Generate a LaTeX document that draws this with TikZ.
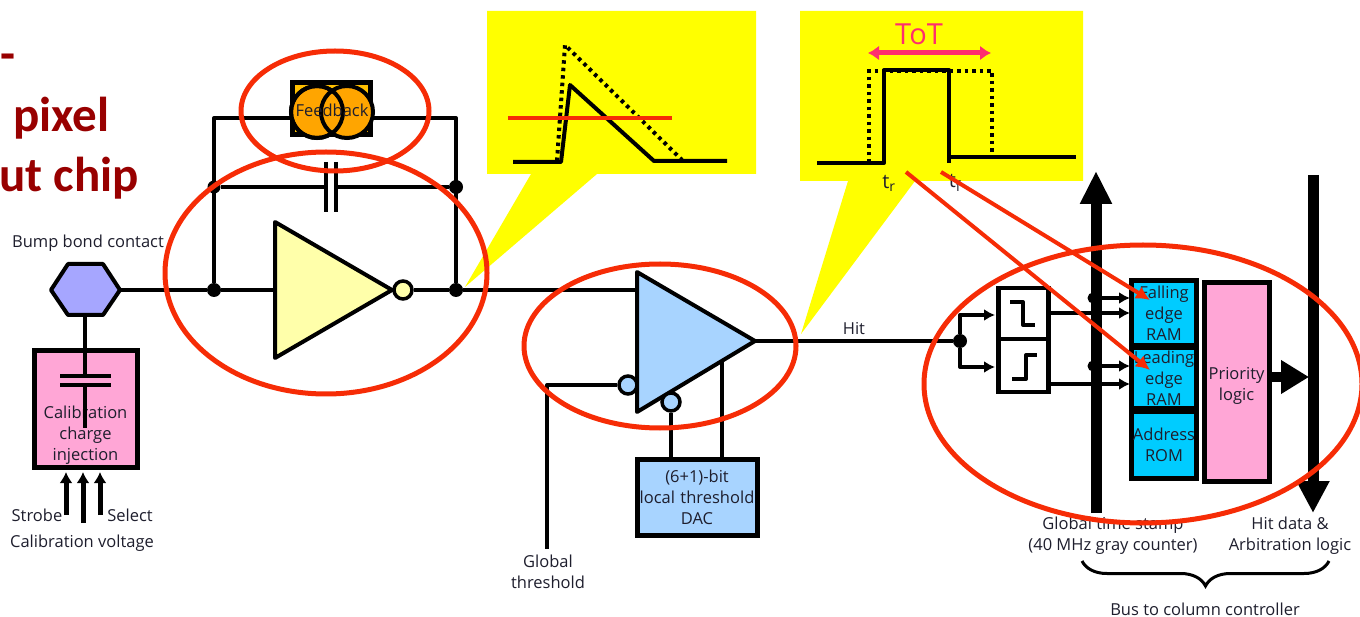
\documentclass[tikz,border=0pt]{standalone}
\usepackage{fontspec}
\setmainfont{Open Sans}
\newfontfamily\titlefont{Carlito}
\usetikzlibrary{arrows.meta,decorations.pathreplacing}

\definecolor{red1}{RGB}{246,44,6}
\definecolor{darkred1}{RGB}{152,0,0}
\definecolor{yellow1}{RGB}{255,255,0}
\definecolor{pink1}{RGB}{255,166,214}
\definecolor{blue1}{RGB}{168,212,255}
\definecolor{cyan1}{RGB}{0,204,255}
\definecolor{cream1}{RGB}{255,255,170}
\definecolor{violet1}{RGB}{166,166,255}
\definecolor{orange1}{RGB}{255,165,0}
\definecolor{tot1}{RGB}{255,45,110}
\definecolor{text1}{RGB}{30,30,45}

\tikzstyle{txt} = [font=\fontsize{16.5}{21}\selectfont, text=text1, inner sep=0pt, align=center]
\tikzstyle{titletxt} = [inner sep=0pt, text=darkred1, font=\titlefont\bfseries\fontsize{49}{49}\selectfont]
\tikzstyle{block} = [txt, draw=black, rectangle, line width=5pt, text centered]
\tikzstyle{ramblock} = [block, fill=cyan1, minimum width=65pt, text width=65pt]
\tikzstyle{stepblock} = [draw=black, fill=white, rectangle, line width=4.5pt, minimum width=50pt]
\tikzstyle{junction} = [circle, fill=black, inner sep=0pt, minimum size=14pt]
\tikzstyle{bubble} = [circle, draw=black, line width=3.5pt, inner sep=0pt, minimum size=18pt]
\tikzstyle{wire} = [draw, line width=4pt, line join=round]
\tikzstyle{arrow} = [wire, -{Latex[length=11pt,width=12pt]}]
\tikzstyle{arrowCal} = [draw, line width=5pt, -{Latex[length=11pt,width=13pt]}]
\tikzstyle{pulseDot} = [draw, line width=4pt, dash pattern=on 3.5pt off 4pt]
\tikzstyle{bus} = [draw, line width=11pt]
\tikzstyle{ring} = [draw=red1, line width=5pt]
\tikzstyle{pointer} = [draw=red1, line width=4pt, -{Latex[length=14pt,width=14pt]}]

\begin{document}
\begin{tikzpicture}[x=1pt, y=-1pt]
  \clip (0,0) rectangle (1360,617);

  % title
  \node [titletxt, anchor=west] (dash) at (0,62) {-};
  \node [titletxt, anchor=west] (titleA) at (13,118) {pixel};
  \node [titletxt, anchor=east] (titleB) at (139,178) {ut chip};

  % callouts
  \fill [yellow1] (487,11) -- (756,11) -- (756,174) -- (597,174) -- (465,287) -- (531,174) -- (487,174) -- cycle;
  \fill [yellow1] (800,11) -- (1083,11) -- (1083,181) -- (915,181) -- (801,334) -- (848,181) -- (800,181) -- cycle;

  \draw [pulseDot] (557,161) -- (565,45) -- (682,160);
  \draw [wire] (513,162) -- (561,162) -- (570,85) -- (654,161) -- (727,161);
  \draw [draw=red1, line width=3.5pt] (508,118) -- (672,118);

  \draw [pulseDot] (869,163) -- (869,71) -- (992,71) -- (992,163);
  \draw [wire] (817,163) -- (884,163) -- (884,70) -- (949,70) -- (949,163);
  \draw [wire] (949,157) -- (1076,157);
  \draw [draw=tot1, line width=5pt, {Latex[length=11pt,width=15pt]}-{Latex[length=11pt,width=15pt]}] (868,53) -- (991,53);
  \node [inner sep=0pt, text=tot1, font=\fontsize{29}{29}\selectfont] (tot) at (919,34) {ToT};
  \node [txt, font=\fontsize{20}{20}\selectfont] (tr) at (889,183) {t\textsubscript{r}};
  \node [txt, font=\fontsize{20}{20}\selectfont] (tf) at (955,183) {t\textsubscript{f}};

  % input side
  \draw [wire, fill=violet1] (51,290) -- (68,264) -- (103,264) -- (120,290) -- (103,315) -- (68,315) -- cycle;
  \coordinate (hexE) at (120,290);
  \coordinate (hexS) at (85,315);
  \node [txt] (bump) at (88,243) {Bump bond contact};
  \node [block, fill=pink1, minimum width=103pt, minimum height=116pt, text width=100pt] (calib) at (85.5,409) {\\[44pt]Calibration\\charge\\injection};
  \coordinate (plateA) at (85,376);
  \coordinate (plateB) at (85,385);
  \draw [wire] (hexS) -- (plateA);
  \draw [line width=4pt] (60,376) -- (111,376) (60,385) -- (111,385);
  \draw [wire] (plateB) -- (85,428);

  \coordinate (strobe) at (66,515);
  \coordinate (calv) at (83,523);
  \coordinate (select) at (100,515);
  \draw [arrowCal] (strobe) -- (66,472);
  \draw [arrowCal] (calv) -- (83,472);
  \draw [arrowCal] (select) -- (100,472);
  \node [txt] (strobeText) at (37,515) {Strobe};
  \node [txt] (selectText) at (130,515) {Select};
  \node [txt] (calvText) at (82,543) {Calibration voltage};

  % preamplifier
  \node [junction] (inDot) at (214,290) {};
  \node [junction] (outDot) at (456,290) {};
  \node [junction, minimum size=13pt] (capL) at (214,187) {};
  \node [junction] (capR) at (456,187) {};
  \draw [wire, fill=cream1] (275,222) -- (392,290) -- (275,358) -- cycle;
  \coordinate (ampIn) at (275,290);
  \node [bubble, fill=cream1] (ampOut) at (403,290) {};

  \node [rectangle, draw=black, line width=5pt, fill=orange1!70!yellow1, minimum width=78pt, minimum height=52pt, inner sep=0pt] (feedback) at (331,109) {};
  \coordinate (feedbackW) at (290,118);
  \coordinate (feedbackE) at (372,118);
  \draw [line width=4pt, fill=orange1] (317,112) circle (26);
  \draw [line width=4pt, fill=orange1] (347,112) circle (26);
  \draw [line width=4pt] (317,112) circle (26);
  \node [txt] (feedbackText) at (332,110) {Feedback};

  \draw [wire] (hexE) -- (inDot) -- (ampIn);
  \draw [wire] (ampOut) -- (outDot);
  \draw [wire] (inDot) -- (214,118) -- (feedbackW);
  \draw [wire] (feedbackE) -- (456,118) -- (outDot);
  \draw [wire] (capL) -- (326,187);
  \draw [wire] (336,187) -- (capR);
  \draw [line width=4pt] (326,162) -- (326,212) (336,162) -- (336,212);

  % discriminator
  \draw [wire, fill=blue1] (637,272) -- (755,341) -- (637,412) -- cycle;
  \coordinate (discIn) at (637,290);
  \coordinate (discOut) at (755,341);
  \coordinate (discTrim) at (722,362);
  \node [bubble, fill=blue1] (thrBubble) at (628,385) {};
  \node [bubble, fill=blue1] (dacBubble) at (671,402) {};
  \node [block, fill=blue1, minimum width=120pt, minimum height=76pt, text width=120pt] (dac) at (697,497) {(6+1)-bit\\local threshold\\DAC};
  \node [txt] (global) at (548,572) {Global\\threshold};
  \draw [wire] (outDot) -- (discIn);
  \draw [wire] (thrBubble) -- (547,385) -- (547,549);
  \draw [wire] (dacBubble) -- (671,457);
  \draw [wire] (discTrim) -- (722,457);

  % hit logic
  \node [stepblock, minimum height=51pt] (fall) at (1023.5,313.5) {};
  \node [stepblock, minimum height=53pt, below of=fall, node distance=52pt] (rise) {};
  \draw [wire] (1010,302) -- (1023,302) -- (1023,325) -- (1035,325);
  \draw [wire] (1012,379) -- (1026,379) -- (1026,355) -- (1037,355);
  \node [junction] (hitDot) at (960,341) {};
  \draw [wire] (discOut) -- node [txt, above, yshift=4pt] (hit) {Hit} (hitDot);
  \draw [arrow] (hitDot) |- (995,315);
  \draw [arrow] (hitDot) |- (995,367);

  \node [ramblock, minimum height=65pt] (falling) at (1164,313.5) {Falling\\edge\\RAM};
  \node [ramblock, minimum height=61pt, below of=falling, node distance=65pt] (leading) {Leading\\edge\\RAM};
  \node [ramblock, minimum height=67pt, below of=leading, node distance=66pt] (address) {Address\\ROM};
  \node [block, fill=pink1, minimum width=65pt, minimum height=198pt, text width=65pt] (priority) at (1236.5,382) {\rule{0pt}{19pt}Priority\\logic};
  \coordinate (priorityOut) at (1271,377);

  \draw [bus, -{Triangle[width=30pt,length=33pt]}] (1096,513) -- (1096,171);
  \draw [bus, -{Triangle[width=31pt,length=32pt]}] (1313,175) -- (1313,513);
  \draw [line width=10pt, -{Triangle[width=32pt,length=28pt]}] (priorityOut) -- (1309,377);

  \node [junction, minimum size=11pt] (clkA) at (1093,298) {};
  \node [junction, minimum size=11pt] (clkB) at (1093,366) {};
  \draw [arrow] (clkA) -- (1130,298);
  \draw [arrow] (1050,313) -- (1130,313);
  \draw [arrow] (clkB) -- (1130,366);
  \draw [arrow] (1050,384) -- (1130,384);

  \node [txt] (stampText) at (1113,536) {Global time stamp\\(40 MHz gray counter)};
  \node [txt] (hitText) at (1290,536) {Hit data \&\\Arbitration logic};
  \coordinate (braceL) at (1082,561);
  \coordinate (braceR) at (1329,561);
  \draw [line width=3pt, decorate, decoration={brace, mirror, amplitude=25pt}] (braceL) -- (braceR);
  \node [txt] (busText) at (1205,609) {Bus to column controller};

  % rings
  \draw [ring] (335,111) ellipse (94 and 60);
  \draw [ring] (326,273) ellipse (161 and 121);
  \draw [ring] (660,346) ellipse (136 and 82);
  \draw [ring] (1143,384) ellipse (219 and 139);

  \coordinate (trPoint) at (906,172);
  \coordinate (tfPoint) at (941,172);
  \draw [pointer] (trPoint) -- (1150,370);
  \draw [pointer] (tfPoint) -- (1150,300);
\end{tikzpicture}
\end{document}
